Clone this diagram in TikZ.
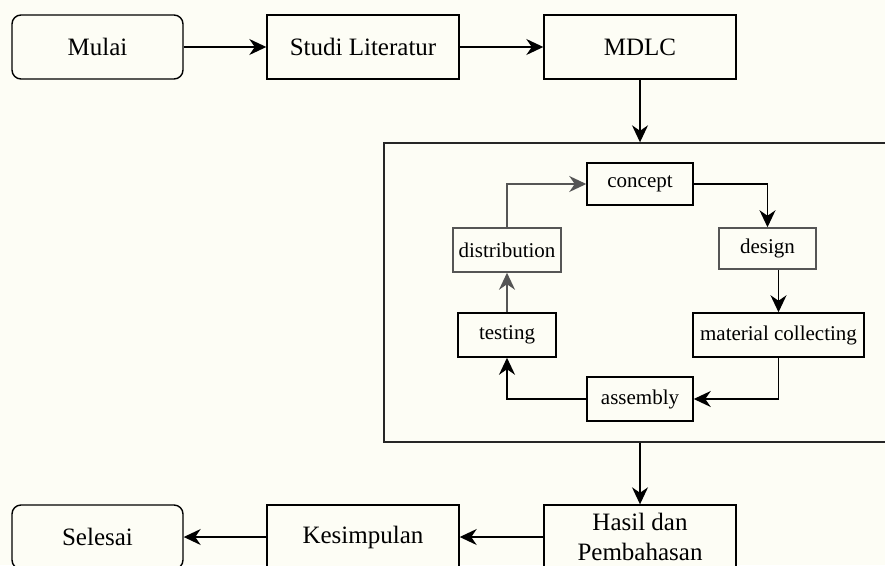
\documentclass[tikz,border=0pt]{standalone}
\usepackage{fontspec}
\setmainfont{Liberation Serif}
\usetikzlibrary{arrows.meta,calc}
\definecolor{bgcream}{RGB}{253,253,245}
\definecolor{softgray}{RGB}{85,85,85}
\tikzset{
  outerbox/.style={draw=black, line width=1.4pt, fill=bgcream, minimum height=64pt, inner sep=0pt,
    font=\fontsize{25}{30}\selectfont, align=center},
  termbox/.style={outerbox, rounded corners=9pt, minimum width=171pt},
  procbox/.style={outerbox, minimum width=192pt},
  innerbox/.style={draw=black, line width=1.5pt, fill=bgcream, inner sep=0pt,
    font=\fontsize{21}{25}\selectfont},
  conn/.style={draw=black, line width=1.4pt, -{Stealth[length=17pt,width=16pt,inset=5.5pt]}},
  iconn/.style={conn, line width=1.5pt},
}
\begin{document}
\begin{tikzpicture}[x=1pt,y=-1pt]
\useasboundingbox[fill=bgcream] (0,0) rectangle (885,565);
% top row
\node[termbox] (mulai) at (97.5,47) {Mulai};
\node[procbox] (studi) at (363,47) {Studi Literatur};
\node[procbox] (mdlc) at (640,47) {MDLC};
% container
\node[draw=black!85, line width=1.4pt, minimum width=506pt, minimum height=299pt, inner sep=0pt] (big) at (637,292.5) {};
% inner cycle
\node[innerbox, minimum width=106pt, minimum height=42pt] (concept) at (640,184) {concept};
\node[innerbox, draw=softgray, minimum width=108pt, minimum height=44pt] (distribution) at (507,250) {distribution};
\node[innerbox, draw=softgray, minimum width=97pt, minimum height=41pt] (design) at (767.5,248.5) {design};
\node[innerbox, minimum width=98pt, minimum height=44pt] (testing) at (507,335) {testing};
\node[innerbox, minimum width=171pt, minimum height=44pt] (material) at (778.5,335) {material collecting};
\node[innerbox, minimum width=106pt, minimum height=44pt] (assembly) at (640,399) {assembly};
% bottom row
\node[termbox] (selesai) at (97.5,537) {Selesai};
\node[procbox] (kesimpulan) at (363,537) {Kesimpulan};
\node[procbox] (hasil) at (640,537) {Hasil dan\\Pembahasan};
% connectors
\draw[conn] (mulai.east) -- (studi.west);
\draw[conn] (studi.east) -- (mdlc.west);
\draw[conn] (mdlc.south) -- (mdlc.south |- big.north);
\draw[iconn, draw=softgray] (distribution.north) |- (concept.west);
\draw[iconn] (concept.east) -| (design.north);
\draw[iconn] (design.south -| material.north) -- (material.north);
\draw[iconn] (material.south) |- (assembly.east);
\draw[iconn] (assembly.west) -| (testing.south);
\draw[iconn, draw=softgray] (testing.north) -- (distribution.south);
\draw[conn] (hasil.north |- big.south) -- (hasil.north);
\draw[conn] (hasil.west) -- (kesimpulan.east);
\draw[conn] (kesimpulan.west) -- (selesai.east);
\end{tikzpicture}
\end{document}
